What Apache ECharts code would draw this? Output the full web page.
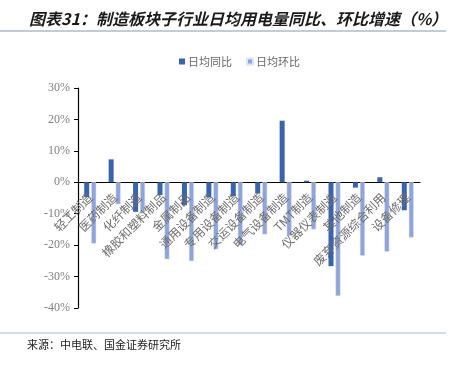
<!DOCTYPE html>
<html lang="zh-CN">
	<head>
		<meta charset="utf-8" />
		<title>制造板块子行业日均用电量</title>
		<style>
			html, body { margin: 0; padding: 0; background: #fff; }
			#chart { width: 451px; height: 366px; }
		</style>
	</head>
	<body>
		<div id="chart"></div>
		<script src="https://cdn.jsdelivr.net/npm/echarts@6/dist/echarts.min.js"></script>
		<script type="text/javascript">
			const categories = ['轻工制造', '医药制造', '化纤制造', '橡胶和塑料制品', '金属制品', '通用设备制造', '专用设备制造',
				'交运设备制造', '电气设备制造', 'TMT制造', '仪器仪表制造', '其他制造', '废弃资源综合利用', '设备修理'];
			// 日均同比 (%)
			const yoy = [-4.7, 7.3, -9.4, -4.1, -7.3, -4.8, -4.4, -3.6, 19.6, 0.5, -26.7, -1.7, 1.6, -8.9];
			// 日均环比 (%)
			const mom = [-19.5, -7.0, -9.8, -24.5, -25.1, -21.3, -20.0, -16.6, -17.1, -15.0, -36.2, -23.4, -22.1, -17.6];
			const yTicks = { min: -40, max: 30, interval: 10 };

			const chart = echarts.init(document.getElementById('chart'));
			const serif = '"Liberation Serif", "Noto Sans CJK SC", serif';
			const cjk = '"Noto Sans CJK SC"';
			// 网格：上 88，下 308，0 轴在 182
			const gridTop = 88, gridBottom = 308;
			const zeroY = gridTop + (gridBottom - gridTop) * yTicks.max / (yTicks.max - yTicks.min);
			chart.setOption({
				animation: false,
				title: {
					text: '图表31：制造板块子行业日均用电量同比、环比增速（%）',
					left: 24,
					top: 6,
					textStyle: { fontSize: 16, fontStyle: 'italic', fontWeight: 'bold', color: '#1a1a1a', fontFamily: cjk },
				},
				graphic: [
					{ type: 'line', shape: { x1: 0, y1: 31, x2: 446, y2: 31 }, style: { stroke: '#a9bccd', lineWidth: 1.5 } },
					{ type: 'line', shape: { x1: 0, y1: 333, x2: 446, y2: 333 }, style: { stroke: '#c9d3dc', lineWidth: 1.5 } },
					{ type: 'text', left: 27, top: 339, style: { text: '来源：中电联、国金证券研究所', fontSize: 11, fill: '#222', fontFamily: cjk } },
				],
				legend: {
					top: 51,
					left: 174,
					itemWidth: 6,
					itemHeight: 6,
					itemGap: 14,
					icon: 'rect',
					textStyle: { fontSize: 11, color: '#666', fontFamily: cjk, padding: [0, 0, 0, -2] },
				},
				grid: { left: 78, right: 31, top: gridTop, bottom: 366 - gridBottom, containLabel: false, outerBoundsMode: 'none' },
				xAxis: [
					{
						type: 'category',
						data: categories,
						axisLine: { onZero: true, lineStyle: { color: '#000', width: 1.2 } },
						axisTick: { inside: true, length: 4, lineStyle: { color: '#000' } },
						axisLabel: { show: false },
					},
					{
						// 只用来放标签，挪到 0 轴处
						type: 'category',
						data: categories,
						position: 'bottom',
						offset: zeroY - gridBottom,
						z: 5,
						axisLine: { show: false, onZero: false },
						axisTick: { show: false },
						axisLabel: {
							rotate: 45,
							interval: 0,
							margin: 13,
							fontSize: 12,
							color: '#6e6e6e',
							fontFamily: cjk,
						},
					},
				],
				yAxis: {
					type: 'value',
					...yTicks,
					axisLine: { show: true, lineStyle: { color: '#000', width: 1.2 } },
					axisTick: { show: true, length: 4, lineStyle: { color: '#000' } },
					splitLine: { show: false },
					axisLabel: { formatter: '{value}%', fontSize: 12, color: '#7f7f7f', fontFamily: serif, margin: 8 },
				},
				series: [
					{
						name: '日均同比',
						type: 'bar',
						data: yoy,
						barWidth: 5,
						barGap: '40%',
						itemStyle: { color: '#3a63ae' },
					},
					{
						name: '日均环比',
						type: 'bar',
						data: mom,
						barWidth: 5,
						itemStyle: { color: '#8fa4d8', borderColor: '#dde4f4', borderWidth: 0.5 },
					},
				],
			});
		</script>
	</body>
</html>
